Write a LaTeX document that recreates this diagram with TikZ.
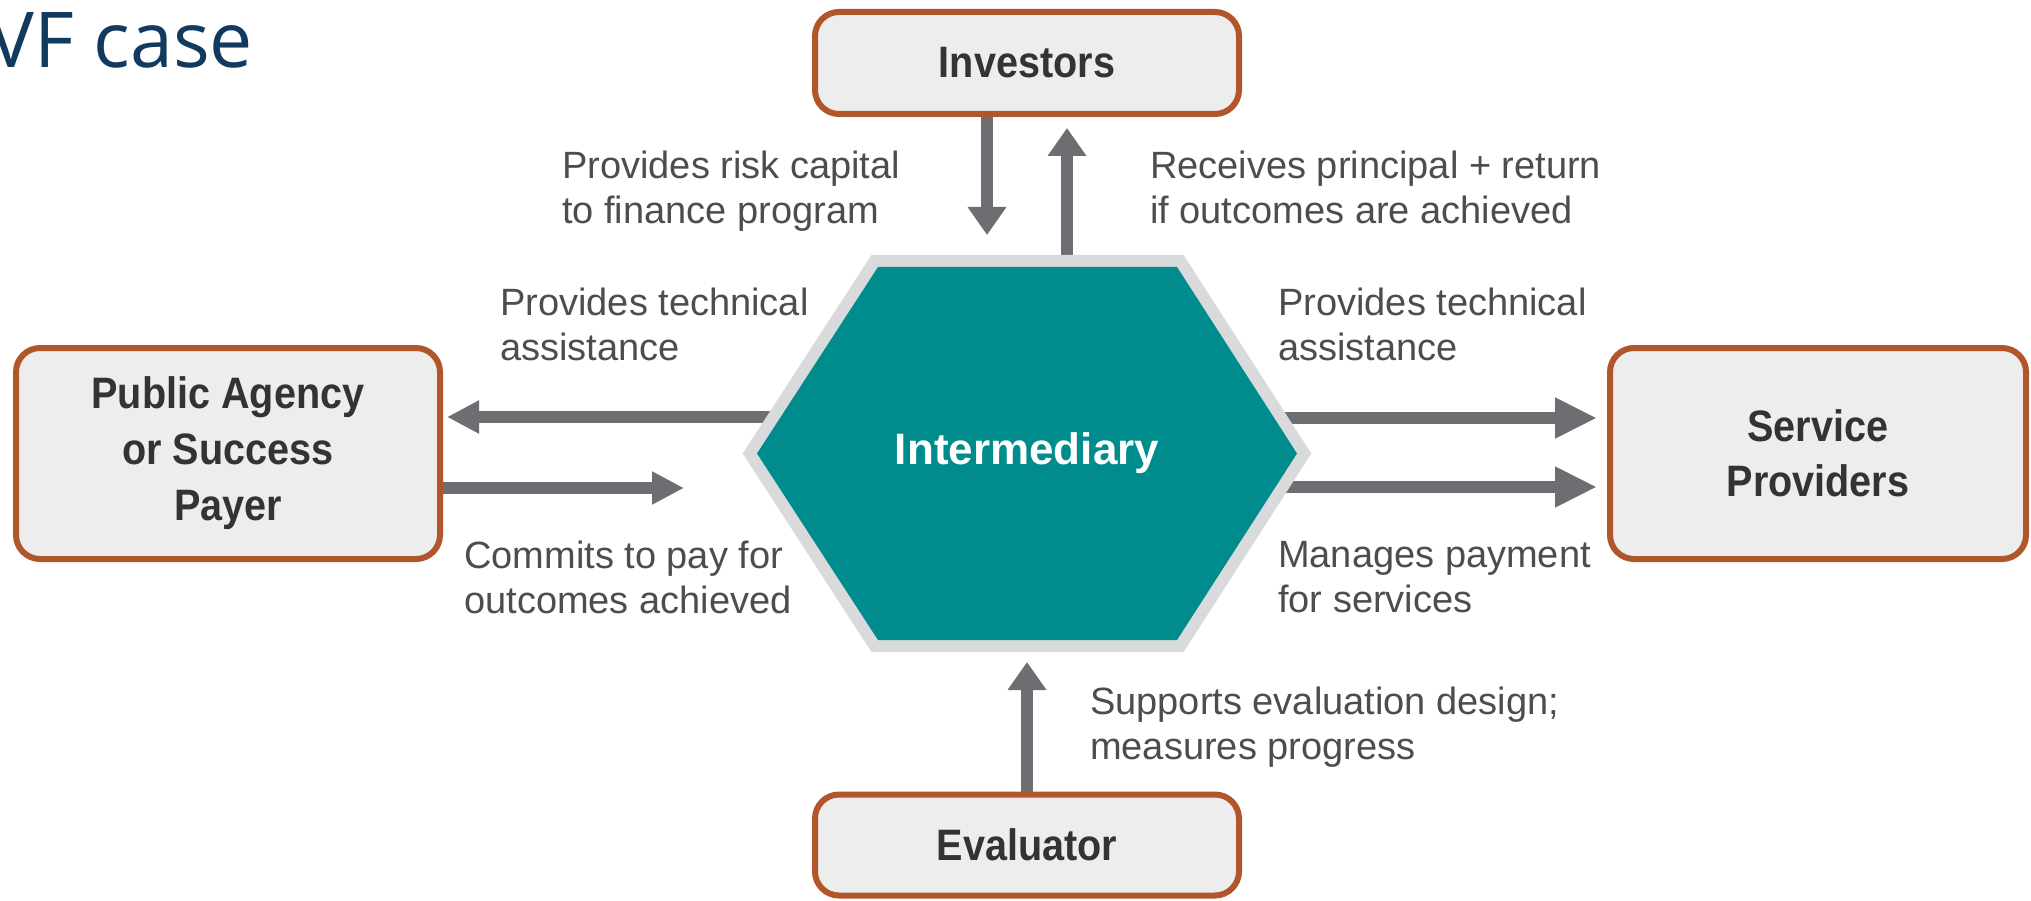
\documentclass[tikz,border=0pt]{standalone}
\usepackage{fontspec}
\usetikzlibrary{arrows.meta}
\newfontfamily\lblfont{Liberation Sans}
\newfontfamily\boxfont[FakeStretch=0.9]{Liberation Sans}
\newfontfamily\hexfont{Liberation Sans}
\newfontfamily\titfont{Open Sans}
\definecolor{hexteal}{RGB}{0,140,141}
\definecolor{hexrim}{RGB}{216,218,219}
\definecolor{arrowgray}{RGB}{109,110,113}
\definecolor{boxfill}{RGB}{237,237,237}
\definecolor{boxborder}{RGB}{176,86,42}
\definecolor{lbltext}{RGB}{77,77,79}
\definecolor{boxtext}{RGB}{51,51,51}
\definecolor{titblue}{RGB}{18,58,94}
\tikzset{
  party/.style={draw=boxborder, fill=boxfill, line width=6pt, rounded corners=24pt,
    align=center, inner sep=0pt, text=boxtext,
    font=\boxfont\bfseries\fontsize{44}{55}\selectfont},
  lbl/.style={anchor=north west, inner sep=0pt, align=left, text=lbltext,
    font=\lblfont\fontsize{38}{45}\selectfont},
  flow/.style={draw=arrowgray, line width=12pt},
  vtip/.style={-{Triangle[length=28pt,width=37pt]}},
  ltip/.style={-{Triangle[length=32pt,width=31pt]}},
  rtip/.style={-{Triangle[length=42pt,width=38pt]}},
}
\begin{document}
\begin{tikzpicture}[x=1pt,y=-1pt]
\fill[white] (0,0) rectangle (2031,901);
\useasboundingbox (0,0) rectangle (2031,901);

% title
\node[anchor=base west, inner sep=0pt, text=titblue,
  font=\titfont\fontsize{77}{85}\selectfont] (title) at (-12,68) {VF case};

% parties
\node[party, minimum width=424pt, minimum height=102pt] (inv) at (1027,63) {Investors};
\node[party, minimum width=424pt, minimum height=211pt] (pub) at (228,453.5) {Public Agency\\[1pt]or Success\\[1pt]Payer};
\node[party, minimum width=416pt, minimum height=211pt] (sp) at (1818,453.5) {Service\\Providers};
\node[party, minimum width=424pt, minimum height=101pt] (eval) at (1027,845) {Evaluator};

% arrow end points
\coordinate (tipInvDown) at (987,235);
\coordinate (tipInvUp) at (1067,128);
\coordinate (hexTop) at (1027,262);
\coordinate (hexL1) at (800,417);
\coordinate (tipPubR) at (684,488);
\coordinate (hexR1) at (1250,418);
\coordinate (hexR2) at (1250,487);
\coordinate (tipEval) at (1027,662);

% connectors
\draw[flow, vtip] (inv.south -| tipInvDown) -- (tipInvDown);
\draw[flow, vtip] (hexTop -| tipInvUp) -- (tipInvUp);
\draw[flow, ltip, shorten >=4pt] (hexL1) -- (hexL1 -| pub.east);
\draw[flow, ltip] (pub.east |- tipPubR) -- (tipPubR);
\draw[flow, rtip, shorten >=10pt] (hexR1) -- (hexR1 -| sp.west);
\draw[flow, rtip, shorten >=10pt] (hexR2) -- (hexR2 -| sp.west);
\draw[flow, vtip] (eval.north) -- (tipEval);

% hexagon
\coordinate (h1) at (878,267);
\coordinate (h2) at (1177,267);
\coordinate (h3) at (1297,453.5);
\coordinate (h4) at (1177,640);
\coordinate (h5) at (878,640);
\coordinate (h6) at (757,453.5);
\draw[hexrim, line width=24pt, line join=miter] (h1) -- (h2) -- (h3) -- (h4) -- (h5) -- (h6) -- cycle;
\fill[hexteal] (h1) -- (h2) -- (h3) -- (h4) -- (h5) -- (h6) -- cycle;
\node[text=white, font=\hexfont\bfseries\fontsize{44}{50}\selectfont, inner sep=0pt] (inter) at (1027,453) {Intermediary};

% labels
\node[lbl] (l1) at (562,151) {Provides risk capital\\to finance program};
\node[lbl] (l2) at (1150,151) {Receives principal + return\\if outcomes are achieved};
\node[lbl] (l3) at (500,288) {Provides technical\\assistance};
\node[lbl] (l4) at (1278,288) {Provides technical\\assistance};
\node[lbl] (l5) at (464,541) {Commits to pay for\\outcomes achieved};
\node[lbl] (l6) at (1278,541) {Manages payment\\for services};
\node[lbl] (l7) at (1090,687) {Supports evaluation design;\\measures progress};
\end{tikzpicture}
\end{document}
